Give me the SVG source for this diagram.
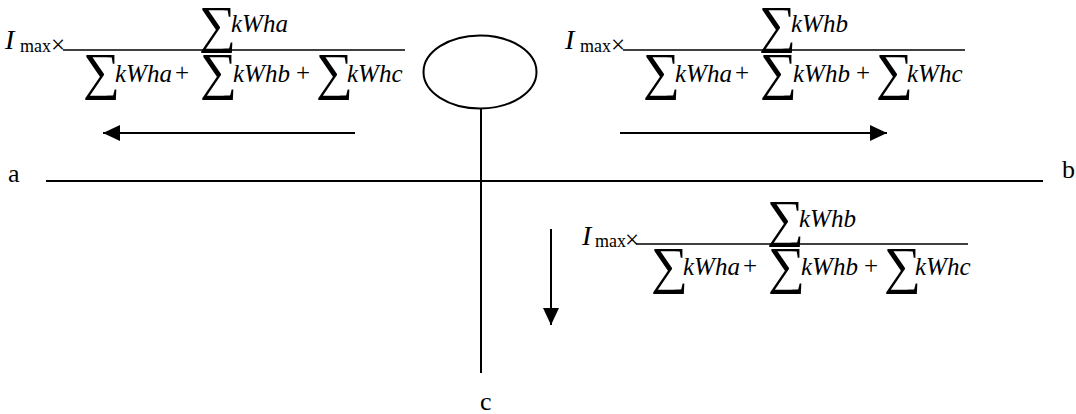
<svg xmlns="http://www.w3.org/2000/svg" width="1076" height="414" viewBox="0 0 1076 414">
<style>
.t{font-family:"Liberation Serif","Times New Roman",serif;fill:#000}
.it{font-style:italic;font-size:25px}
.I{font-style:italic;font-size:28px}
.sub{font-size:18px}
.op{font-size:25px}
.sig{font-size:52px}
.lbl{font-size:26px}
.ln{stroke:#000;stroke-width:2;fill:none}
.fr{stroke:#000;stroke-width:1.5}
</style>
<defs>
<marker id="ah" markerUnits="userSpaceOnUse" markerWidth="18" markerHeight="16" refX="17" refY="8" orient="auto">
<path d="M0,0 L17,8 L0,16 Z" fill="#000"/>
</marker>
</defs>
<rect width="1076" height="414" fill="#fff"/>
<g id="bus">
<line class="ln" x1="46" y1="181" x2="1043" y2="181"/>
<line class="ln" x1="481" y1="108" x2="481" y2="373"/>
</g>
<g id="source">
<ellipse cx="480" cy="72" rx="56.5" ry="36.5" fill="none" stroke="#000" stroke-width="2"/>
</g>
<g id="labels" class="t lbl">
<text x="8" y="182">a</text>
<text x="1062" y="178">b</text>
<text x="480" y="410">c</text>
</g>
<g id="connectors">
<line class="ln" x1="355" y1="133" x2="103" y2="133" marker-end="url(#ah)"/>
<line class="ln" x1="620" y1="133" x2="887" y2="133" marker-end="url(#ah)"/>
<line class="ln" x1="551" y1="229" x2="551" y2="325" marker-end="url(#ah)"/>
</g>
<g id="formula-a" class="t">
<text class="I" x="5" y="49">I</text>
<text class="sub" x="20" y="52">max</text>
<text class="op" x="51" y="53">×</text>
<line class="fr" x1="63" y1="50" x2="405" y2="50"/>
<text class="sig" x="199" y="42">∑</text>
<text class="it" x="231" y="32">kWha</text>
<text class="sig" x="83" y="89">∑</text>
<text class="it" x="115" y="82">kWha</text>
<text class="op" x="175" y="81">+</text>
<text class="sig" x="200" y="89">∑</text>
<text class="it" x="233" y="82">kWhb</text>
<text class="op" x="296" y="81">+</text>
<text class="sig" x="316" y="89">∑</text>
<text class="it" x="347" y="82">kWhc</text>
</g>
<g id="formula-b" class="t" transform="translate(560,0)">
<text class="I" x="5" y="49">I</text>
<text class="sub" x="20" y="52">max</text>
<text class="op" x="51" y="53">×</text>
<line class="fr" x1="63" y1="50" x2="405" y2="50"/>
<text class="sig" x="199" y="42">∑</text>
<text class="it" x="231" y="32">kWhb</text>
<text class="sig" x="83" y="89">∑</text>
<text class="it" x="115" y="82">kWha</text>
<text class="op" x="175" y="81">+</text>
<text class="sig" x="200" y="89">∑</text>
<text class="it" x="233" y="82">kWhb</text>
<text class="op" x="296" y="81">+</text>
<text class="sig" x="316" y="89">∑</text>
<text class="it" x="347" y="82">kWhc</text>
</g>
<g id="formula-c" class="t" transform="translate(568,194)">
<text class="I" x="14" y="51">I</text>
<text class="sub" x="27" y="53">max</text>
<text class="op" x="57" y="54">×</text>
<line class="fr" x1="68" y1="50" x2="400" y2="50"/>
<text class="sig" x="199" y="42">∑</text>
<text class="it" x="231" y="33">kWhb</text>
<text class="sig" x="83" y="89">∑</text>
<text class="it" x="115" y="81">kWha</text>
<text class="op" x="175" y="80">+</text>
<text class="sig" x="200" y="89">∑</text>
<text class="it" x="233" y="81">kWhb</text>
<text class="op" x="296" y="80">+</text>
<text class="sig" x="316" y="89">∑</text>
<text class="it" x="347" y="81">kWhc</text>
</g>
</svg>
